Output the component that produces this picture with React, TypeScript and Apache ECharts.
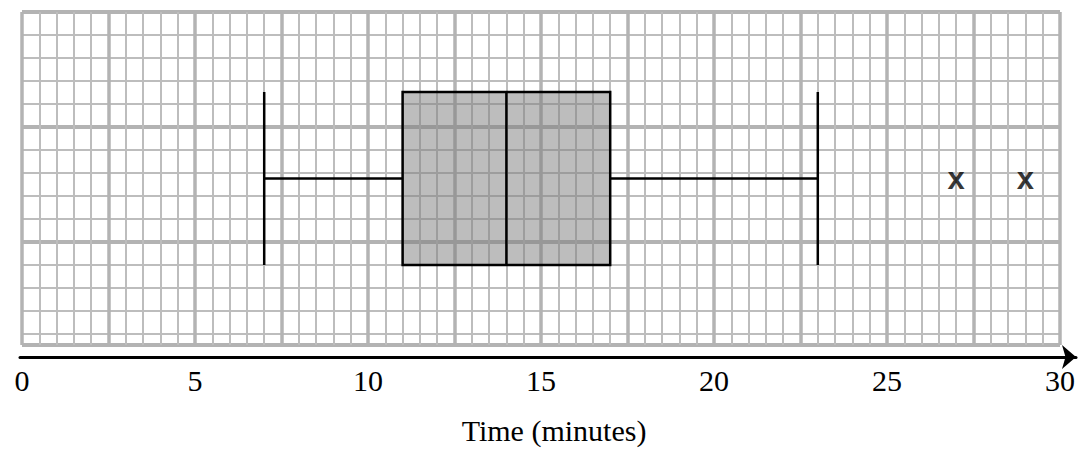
import React, { useEffect, useRef } from "react";
import * as echarts from "echarts";

// ---- data ----
const xMin = 0;
const xMax = 30;
const labelStep = 5;
const majorStep = 2.5;
const minorStep = 0.5;
const rowCount = 14.5; // grid rows between the top edge and the axis
const categories = ["Time"];
const boxStats = [7, 11, 14, 17, 23]; // min, Q1, median, Q3, max
const outliers = [27, 29];
const axisTitle = "Time (minutes)";

export default function App() {
  const ref = useRef<HTMLDivElement>(null);

  useEffect(() => {
    if (!ref.current) return;
    const chart = echarts.init(ref.current, null, { renderer: "svg" });
    const gridPos = { left: 22, right: 16, top: 12, bottom: 93 };
    const option: any = {
      animation: false,
      backgroundColor: "#ffffff",
      grid: [
        { ...gridPos, containLabel: false },
        { left: 20, right: 2, top: 12, bottom: 93, containLabel: false },
      ],
      xAxis: [
        {
          gridIndex: 0,
          type: "value",
          min: xMin,
          max: xMax,
          interval: labelStep,
          axisLine: { show: false },
          axisTick: { show: false },
          splitLine: { show: false },
          axisLabel: {
            show: true,
            margin: 20,
            color: "#000",
            fontFamily: "Liberation Serif",
            fontSize: 30,
          },
          name: axisTitle,
          nameLocation: "middle",
          nameGap: 70,
          nameTextStyle: {
            color: "#000",
            fontFamily: "Liberation Serif",
            fontSize: 30,
            padding: [0, 0, 0, 26],
          },
        },
        {
          gridIndex: 0,
          type: "value",
          min: xMin,
          max: xMax,
          interval: minorStep,
          axisLine: { show: false },
          axisTick: { show: false },
          axisLabel: { show: false },
          splitLine: { show: true, lineStyle: { color: "#bdbdbd", width: 2 } },
        },
        {
          gridIndex: 0,
          type: "value",
          min: xMin,
          max: xMax,
          interval: majorStep,
          axisLine: { show: false },
          axisTick: { show: false },
          axisLabel: { show: false },
          splitLine: { show: true, lineStyle: { color: "#b3b3b3", width: 3.5 } },
        },
        {
          gridIndex: 1,
          type: "value",
          min: 0,
          max: 1,
          axisLine: {
            show: true,
            lineStyle: { color: "#000", width: 3 },
            symbol: ["none", "arrow"],
            symbolSize: [18, 14],
          },
          axisTick: { show: false },
          axisLabel: { show: false },
          splitLine: { show: false },
        },
      ],
      yAxis: [
        {
          gridIndex: 0,
          type: "value",
          inverse: true,
          min: 0,
          max: rowCount,
          interval: 1,
          axisLine: { show: false },
          axisTick: { show: false },
          axisLabel: { show: false },
          splitLine: { show: true, lineStyle: { color: "#bdbdbd", width: 2 } },
        },
        {
          gridIndex: 0,
          type: "value",
          inverse: true,
          min: 0,
          max: rowCount,
          interval: 5,
          axisLine: { show: false },
          axisTick: { show: false },
          axisLabel: { show: false },
          splitLine: { show: true, lineStyle: { color: "#b3b3b3", width: 4 } },
        },
        {
          gridIndex: 0,
          type: "category",
          data: categories,
          axisLine: { show: false },
          axisTick: { show: false },
          axisLabel: { show: false },
          splitLine: { show: false },
        },
        { gridIndex: 1, type: "value", show: false, min: 0, max: 1 },
      ],
      series: [
        {
          type: "boxplot",
          xAxisIndex: 0,
          yAxisIndex: 2,
          layout: "horizontal",
          boxWidth: [173, 173],
          data: [boxStats],
          itemStyle: {
            color: "rgba(126,126,126,0.51)",
            borderColor: "#000",
            borderWidth: 2.5,
          },
          emphasis: { disabled: true },
          z: 5,
        },
        {
          type: "scatter",
          xAxisIndex: 0,
          yAxisIndex: 2,
          data: outliers.map((v) => [v, 0]),
          symbolSize: 0,
          label: {
            show: true,
            position: "inside",
            formatter: "x",
            color: "#000",
            fontFamily: "Liberation Sans",
            fontWeight: "bold",
            fontSize: 31,
            offset: [0, 0],
          },
          emphasis: { disabled: true },
          z: 6,
        },
      ],
    };
    chart.setOption(option);
    return () => chart.dispose();
  }, []);

  return (
    <div
      ref={ref}
      style={{ position: "fixed", left: 0, top: 0, width: 1078, height: 450 }}
    />
  );
}
